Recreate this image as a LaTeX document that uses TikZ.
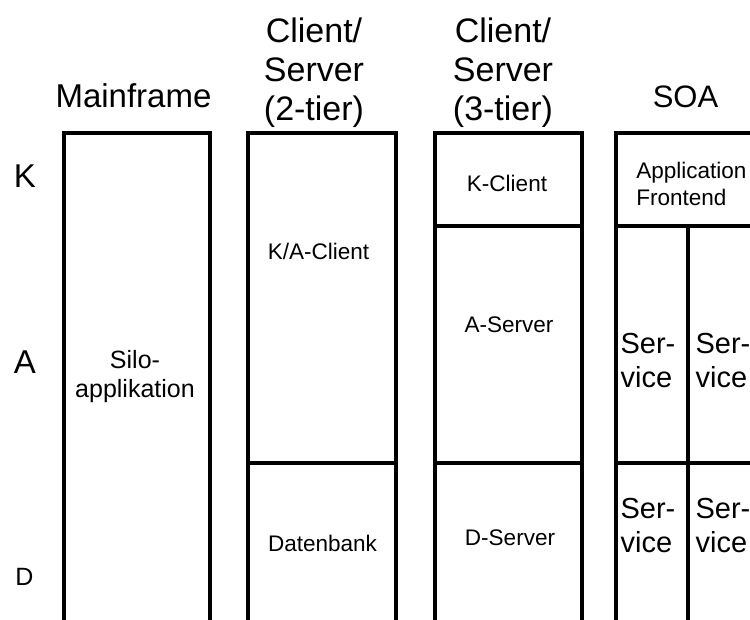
\documentclass[tikz,border=0pt]{standalone}
\usepackage{fontspec}
\setmainfont{Liberation Sans}
\begin{document}
\begin{tikzpicture}[x=0.75pt,y=-0.75pt,
  col/.style={line width=2.4pt, line join=miter},
  hdr/.style={font=\fontsize{25.5}{29}\selectfont, align=center, anchor=base, inner sep=0pt},
  layer/.style={font=\fontsize{24.75}{29}\selectfont, anchor=base, inner sep=0pt},
  cell/.style={font=\fontsize{16.9}{20.25}\selectfont, anchor=base, inner sep=0pt},
  silo/.style={font=\fontsize{18.75}{21.75}\selectfont, align=center, anchor=base, inner sep=0pt},
  svc/.style={font=\fontsize{21.75}{25.5}\selectfont, align=left, anchor=base, inner sep=0pt}]
\useasboundingbox (0,0) rectangle (750,619);
\clip (0,0) rectangle (750,619);

% column outlines, open below the picture edge
\draw[col] (64,640) -- (64,133) -- (210,133) -- (210,640);
\draw[col] (248,640) -- (248,133) -- (396,133) -- (396,640);
\draw[col] (435,640) -- (435,133) -- (582,133) -- (582,640);
\draw[col] (616,640) -- (616,133) -- (764,133) -- (764,640);

% layer dividers
\draw[col] (248,463) -- (396,463);
\draw[col] (435,226) -- (582,226);
\draw[col] (435,463) -- (582,463);
\draw[col] (616,226) -- (764,226);
\draw[col] (616,463) -- (764,463);
\draw[col] (688,226) -- (688,640);

% column headings (base = baseline of the last line)
\node[hdr, font=\fontsize{24.75}{29}\selectfont] (hmain) at (133.5,107) {Mainframe};
\node[hdr] (htwo) at (314,120) {Client/\\Server\\(2-tier)};
\node[hdr] (hthree) at (503,120) {Client/\\Server\\(3-tier)};
\node[hdr, font=\fontsize{23.25}{29}\selectfont] (hsoa) at (685.5,107) {SOA};

% layer markers
\node[layer] (lk) at (25,187) {K};
\node[layer] (la) at (25,373) {A};
\node[layer, font=\fontsize{18.75}{22}\selectfont] (ld) at (24.5,585) {D};

% cell texts
\node[silo] (silo) at (135,397) {Silo-\\applikation};
\node[cell] (kaclient) at (318.5,259) {K/A-Client};
\node[cell] (datenbank) at (322.5,551) {Datenbank};
\node[cell] (kclient) at (507,191) {K-Client};
\node[cell] (aserver) at (509,332) {A-Server};
\node[cell] (dserver) at (510,545) {D-Server};
\node[cell, align=left, anchor=base west] (frontend) at (636,205) {Application\\Frontend};
\node[svc] (svca) at (648,387) {Ser-\\vice};
\node[svc] (svcb) at (723,387) {Ser-\\vice};
\node[svc] (svcc) at (648,552) {Ser-\\vice};
\node[svc] (svcd) at (723,552) {Ser-\\vice};
\end{tikzpicture}
\end{document}
